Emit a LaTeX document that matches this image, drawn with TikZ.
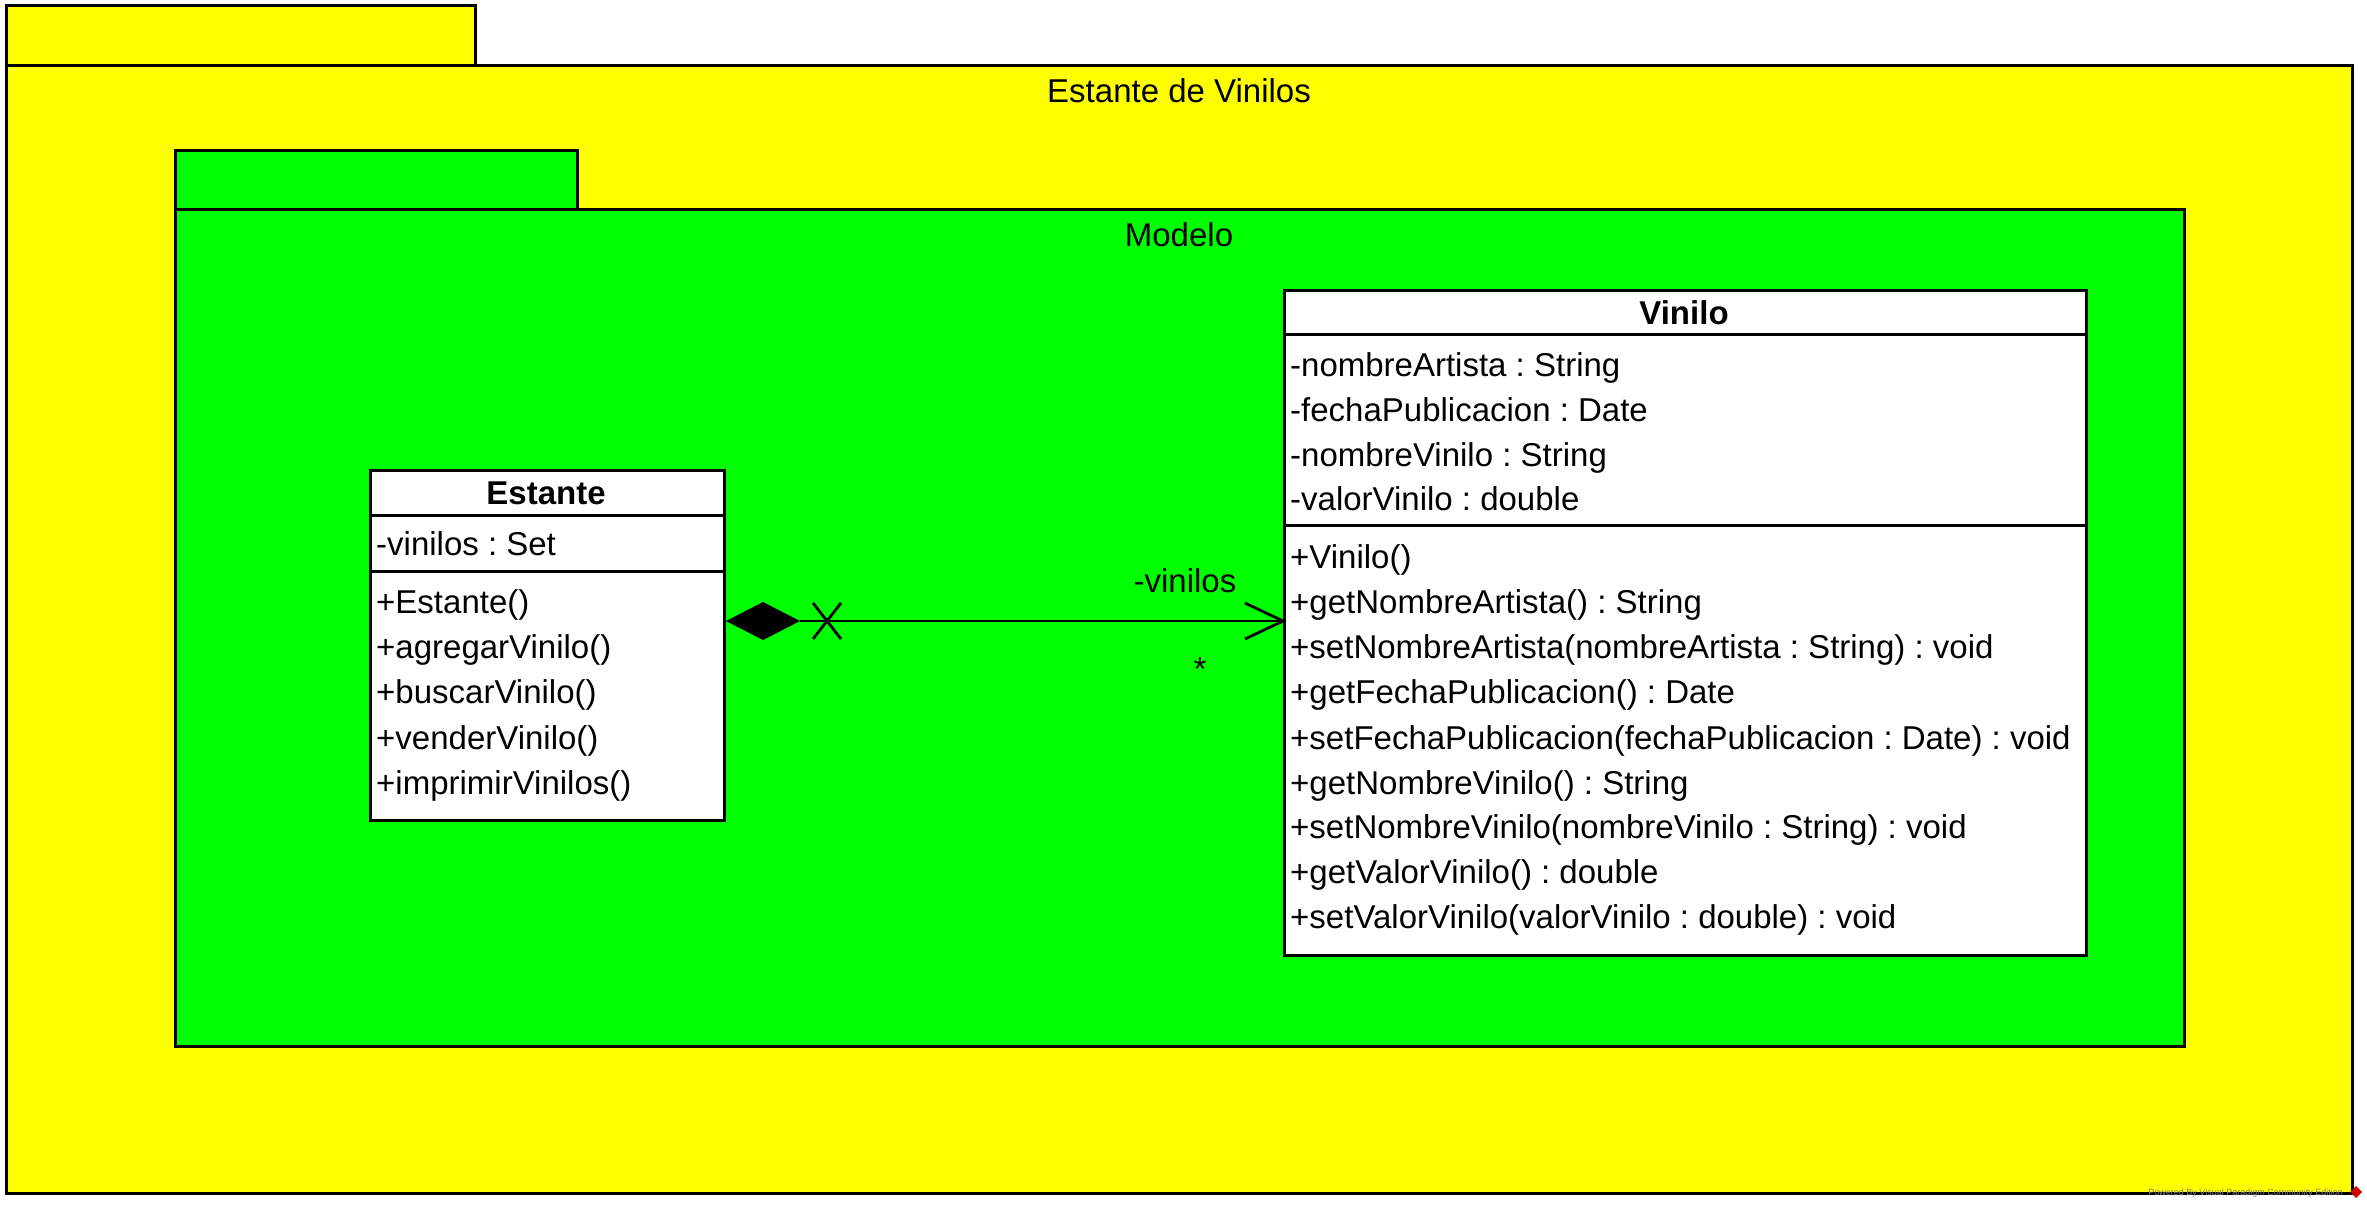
\documentclass[tikz,border=0pt]{standalone}
\usepackage{fontspec}
\setmainfont{Liberation Sans}
\definecolor{vpyellow}{RGB}{255,255,0}
\definecolor{vpgreen}{RGB}{0,255,0}
\frenchspacing
\begin{document}
\frenchspacing
\begin{tikzpicture}[x=1pt,y=-1pt]
\tikzset{
 pkg/.style={draw=black, line width=3pt},
 cls/.style={draw=black, fill=white, line width=3pt, inner sep=0, anchor=north west},
 sep/.style={draw=black, line width=3pt},
 txt/.style={font=\fontsize{33}{40}\selectfont, inner sep=0, anchor=west, text height=24pt, text depth=0pt},
 hdr/.style={font=\fontsize{33}{40}\selectfont\bfseries, inner sep=0, anchor=center, text height=24pt, text depth=0pt},
 conn/.style={draw=black, line width=2.8pt},
}
\useasboundingbox[fill=white] (0,0) rectangle (2367,1209);
% outer package
\path[pkg, fill=vpyellow] (6,6) rectangle (475,66);
\path[pkg, fill=vpyellow] (6,66) rectangle (2352,1193);
\node[txt, anchor=center] (ptitle) at (1179,91) {Estante de Vinilos};
% inner package
\path[pkg, fill=vpgreen] (175,151) rectangle (577,210);
\path[pkg, fill=vpgreen] (175,210) rectangle (2184,1046);
\node[txt, anchor=center] (mtitle) at (1179,235) {Modelo};
% Estante class
\node[cls, minimum width=354pt, minimum height=350pt] (estante) at (369,469) {};
\path[sep] (estante.west |- 0,515) -- (estante.east |- 0,515);
\path[sep] (estante.west |- 0,571) -- (estante.east |- 0,571);
\node[hdr] (eh) at (546,492) {Estante};
\node[txt] (ea1) at (376,543) {-vinilos : Set};
\node[txt] (em1) at (376,601) {+Estante()};
\node[txt] (em2) at (376,646) {+agregarVinilo()};
\node[txt] (em3) at (376,691) {+buscarVinilo()};
\node[txt] (em4) at (376,737) {+venderVinilo()};
\node[txt] (em5) at (376,782) {+imprimirVinilos()};
% Vinilo class
\node[cls, minimum width=802pt, minimum height=665pt] (vinilo) at (1283,289) {};
\path[sep] (vinilo.west |- 0,334) -- (vinilo.east |- 0,334);
\path[sep] (vinilo.west |- 0,525) -- (vinilo.east |- 0,525);
\node[hdr] (vh) at (1684,312) {Vinilo};
\node[txt] (va1) at (1290,364) {-nombreArtista : String};
\node[txt] (va2) at (1290,409) {-fechaPublicacion : Date};
\node[txt] (va3) at (1290,454) {-nombreVinilo : String};
\node[txt] (va4) at (1290,498) {-valorVinilo : double};
\node[txt] (vm1) at (1290,556) {+Vinilo()};
\node[txt] (vm2) at (1290,601) {+getNombreArtista() : String};
\node[txt] (vm3) at (1290,646) {+setNombreArtista(nombreArtista : String) : void};
\node[txt] (vm4) at (1290,691) {+getFechaPublicacion() : Date};
\node[txt] (vm5) at (1290,737) {+setFechaPublicacion(fechaPublicacion : Date) : void};
\node[txt] (vm6) at (1290,782) {+getNombreVinilo() : String};
\node[txt] (vm7) at (1290,826) {+setNombreVinilo(nombreVinilo : String) : void};
\node[txt] (vm8) at (1290,871) {+getValorVinilo() : double};
\node[txt] (vm9) at (1290,916) {+setValorVinilo(valorVinilo : double) : void};
% association
\coordinate (src) at (estante.east |- 0,621);
\coordinate (dst) at (vinilo.west |- 0,621);
\fill[black] (src) -- ++(37,-19) -- ++(37,19) -- ++(-37,19) -- cycle;
\path[conn] (src) ++(74,0) -- (dst);
\path[conn] (src) ++(87,-18) -- ++(28,36);
\path[conn] (src) ++(87,18) -- ++(28,-36);
\path[conn, line join=miter] (dst) ++(-38,-18) -- (dst) -- ++(-38,18);
\node[txt, anchor=center] (role) at (1185,580) {-vinilos};
\node[txt, anchor=center] (mult) at (1200,668) {*};
% watermark
\node[font=\fontsize{9}{10}\selectfont, text=gray, anchor=east, inner sep=0] (wm) at (2343,1193) {Powered By Visual Paradigm Community Edition};
\fill[red!80!black] (2356,1186) -- (2362,1192) -- (2356,1198) -- (2350,1192) -- cycle;
\end{tikzpicture}
\end{document}
